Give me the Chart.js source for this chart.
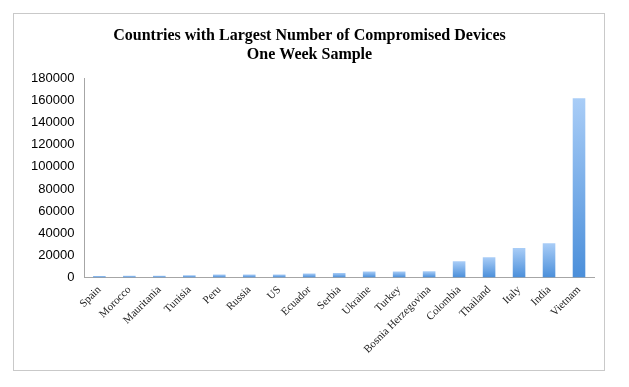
<!DOCTYPE html>
<html>
<head>
<meta charset="utf-8">
<script src="https://cdn.jsdelivr.net/npm/chart.js@4/dist/chart.umd.min.js"></script>
<style>
  html, body { margin: 0; padding: 0; background: #fff; }
  #frame { position: absolute; left: 13px; top: 13px; width: 592px; height: 358px; border: 1px solid #c9c9c9; box-sizing: border-box; }
  canvas { display: block; }
</style>
</head>
<body>
<div id="frame"><canvas id="chart" width="590" height="356"></canvas></div>
<script>
/* data */
const countries = ["Spain", "Morocco", "Mauritania", "Tunisia", "Peru", "Russia", "US", "Ecuador", "Serbia",
                   "Ukraine", "Turkey", "Bosnia Herzegovina", "Colombia", "Thailand", "Italy", "India", "Vietnam"];
const devices = [1300, 1400, 1500, 2000, 2500, 2500, 2600, 3500, 4000,
                 5300, 5400, 5500, 14500, 18200, 26500, 30800, 162000];
const titleLines = ["Countries with Largest Number of Compromised Devices", "One Week Sample"];

function barGradient(ctx) {
  const chart = ctx.chart;
  if (!chart.chartArea || ctx.dataIndex == null) return "#6aa6ea";
  const y = chart.scales.y;
  const top = y.getPixelForValue(devices[ctx.dataIndex]);
  const bottom = y.getPixelForValue(0);
  if (!isFinite(top) || bottom - top < 1) return "#6aa6ea";
  const g = chart.ctx.createLinearGradient(0, top, 0, bottom);
  g.addColorStop(0, "#a9cdf7");
  g.addColorStop(1, "#4b8fda");
  return g;
}

new Chart(document.getElementById("chart"), {
  type: "bar",
  data: {
    labels: countries,
    datasets: [{ data: devices, backgroundColor: barGradient, barPercentage: 0.42, categoryPercentage: 1 }]
  },
  options: {
    responsive: false,
    animation: false,
    layout: { padding: { left: 11, right: 10, top: 4, bottom: 8 } },
    plugins: {
      legend: { display: false },
      tooltip: { enabled: false },
      title: {
        display: true,
        text: titleLines,
        color: "#000",
        font: { family: "Liberation Serif", size: 16, weight: "bold", lineHeight: 1.2 },
        padding: { top: 8, bottom: 14 }
      }
    },
    scales: {
      x: {
        grid: { display: false, drawTicks: false },
        border: { color: "#a6a6a6" },
        ticks: { color: "#222", maxRotation: 45, minRotation: 45, padding: 6, autoSkip: false,
                 font: { family: "Liberation Serif", size: 11 } }
      },
      y: {
        min: 0, max: 180000,
        grid: { display: false, drawTicks: true, tickLength: 4, tickColor: "#a6a6a6" },
        border: { color: "#a6a6a6" },
        ticks: { stepSize: 20000, color: "#000", padding: 6,
                 callback: v => String(v),
                 font: { family: "Liberation Sans", size: 13 } }
      }
    }
  }
});
</script>
</body>
</html>
